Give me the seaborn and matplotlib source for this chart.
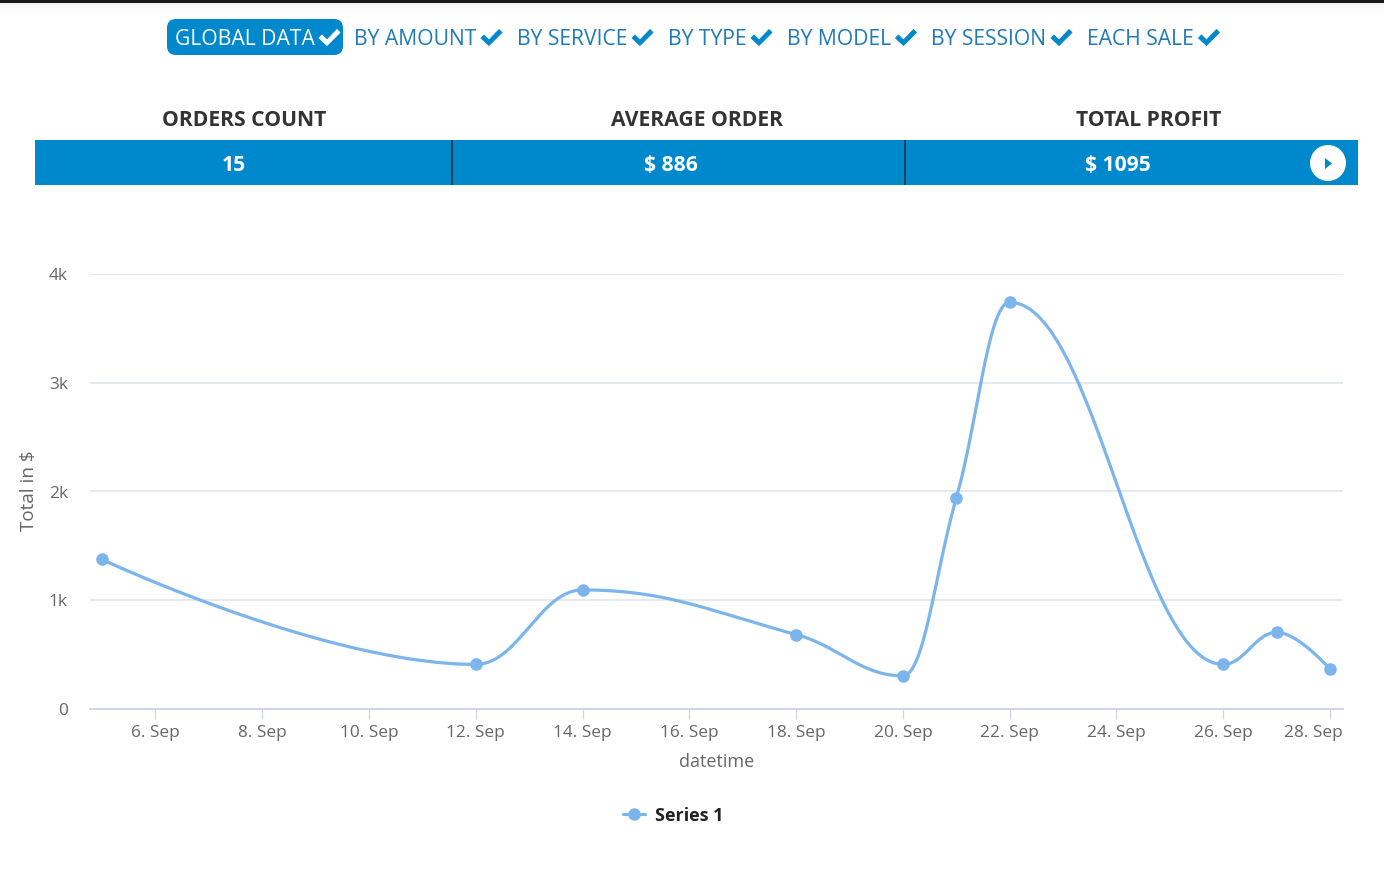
import matplotlib
matplotlib.use("Agg")
import matplotlib.pyplot as plt
import matplotlib.transforms as mtrans
from matplotlib.lines import Line2D
from matplotlib.patches import FancyBboxPatch, Rectangle, Circle, Polygon
import numpy as np
import pandas as pd
import seaborn as sns

# ---- data ----
days = [5, 12, 14, 18, 20, 21, 22, 26, 27, 28]
totals = [1375, 410, 1095, 685, 305, 1940, 3740, 410, 705, 365]
x_tick_days = [6, 8, 10, 12, 14, 16, 18, 20, 22, 24, 26, 28]
x_tick_labels = ["6. Sep", "8. Sep", "10. Sep", "12. Sep", "14. Sep", "16. Sep",
                 "18. Sep", "20. Sep", "22. Sep", "24. Sep", "26. Sep", "28. Sep"]
y_ticks = [0, 1000, 2000, 3000, 4000]
y_tick_labels = ["0", "1k", "2k", "3k", "4k"]
tabs = ["GLOBAL DATA", "BY AMOUNT", "BY SERVICE", "BY TYPE", "BY MODEL", "BY SESSION", "EACH SALE"]
headers = ["ORDERS COUNT", "AVERAGE ORDER", "TOTAL PROFIT"]
header_values = ["15", "$ 886", "$ 1095"]

BLUE = "#0088cc"
LINE = "#7cb5ec"
W, H = 1384, 880

sns.set_theme(style="white")
plt.rcParams["font.family"] = ["Open Sans", "DejaVu Sans"]

fig = plt.figure(figsize=(W / 100, H / 100), dpi=100, facecolor="white")

# page furniture, in pixel coordinates
bg = fig.add_axes([0, 0, 1, 1])
bg.set_xlim(0, W)
bg.set_ylim(H, 0)
bg.axis("off")

bg.add_patch(Rectangle((0, 0), W, 3, color="#1a1a1a", lw=0))
for i, a in enumerate([0.06, 0.04, 0.025, 0.015, 0.008]):
    bg.add_patch(Rectangle((0, 3 + i * 2), W, 2, color="black", alpha=a, lw=0))

bg.add_patch(FancyBboxPatch((167, 19), 176, 36, boxstyle="round,pad=0,rounding_size=9",
                            mutation_aspect=1, facecolor=BLUE, edgecolor="none", lw=0))
tab_x = [175, 354, 517, 668, 787, 931, 1087]
check_x = [329.5, 491.5, 642.5, 761.5, 906, 1061.5, 1209]
CHECK = np.array([(-10.5, 1), (-7.5, -2), (-2.5, 3), (7.5, -7.5), (10.5, -4.5), (-2.5, 8.5)])
for i, (t, xp, cx) in enumerate(zip(tabs, tab_x, check_x)):
    col = "white" if i == 0 else "#1f7ab5"
    bg.text(xp, 39.5, t, fontsize=15.2, color=col, ha="left", va="center")
    ccol = "white" if i == 0 else BLUE
    bg.add_patch(Polygon(CHECK + (cx, 37), closed=True, facecolor=ccol, edgecolor=ccol, lw=0.6, joinstyle="round"))

for t, xp in zip(headers, [244, 697, 1149]):
    bg.text(xp, 120.5, t, fontsize=15.2, fontweight="bold", color="#333333",
            ha="center", va="center")

bg.add_patch(Rectangle((35, 140), 1323, 45, color=BLUE, lw=0))
for xp in [452, 905]:
    bg.add_patch(Rectangle((xp - 1, 140), 2, 45, color="#1f3f55", lw=0))
for t, xp in zip(header_values, [233.5, 670.5, 1117.5]):
    bg.text(xp, 165.5, t, fontsize=15.2, fontweight="bold", color="white",
            ha="center", va="center")
bg.add_patch(Circle((1328, 163), 18, color="white", lw=0))
bg.add_patch(Polygon([(1325, 158), (1325, 169), (1332, 163.5)], closed=True, color=BLUE, lw=0))

# chart
L, R, T, B = 90, 1343, 274, 709
ax = fig.add_axes([L / W, 1 - B / H, (R - L) / W, (B - T) / H])
ax.patch.set_alpha(0)

start = pd.Timestamp("2018-09-01")
dates = [start + pd.Timedelta(days=d - 1) for d in days]


def spline(xs, ys, smoothing=1.5):
    """Draw the connecting curve between the read points, as the original's spline does."""
    n = len(xs)
    lc, rc = [None] * n, [None] * n
    den = smoothing + 1
    for i in range(n):
        if 0 < i < n - 1:
            lx = (smoothing * xs[i] + xs[i - 1]) / den
            ly = (smoothing * ys[i] + ys[i - 1]) / den
            rx = (smoothing * xs[i] + xs[i + 1]) / den
            ry = (smoothing * ys[i] + ys[i + 1]) / den
            c = (ry - ly) * (rx - xs[i]) / (rx - lx) + ys[i] - ry
            ly += c
            ry += c
            if ly > ys[i - 1] and ly > ys[i]:
                ly = max(ys[i - 1], ys[i]); ry = 2 * ys[i] - ly
            elif ly < ys[i - 1] and ly < ys[i]:
                ly = min(ys[i - 1], ys[i]); ry = 2 * ys[i] - ly
            if ry > ys[i + 1] and ry > ys[i]:
                ry = max(ys[i + 1], ys[i]); ly = 2 * ys[i] - ry
            elif ry < ys[i + 1] and ry < ys[i]:
                ry = min(ys[i + 1], ys[i]); ly = 2 * ys[i] - ry
            lc[i], rc[i] = (lx, ly), (rx, ry)
        else:
            lc[i] = rc[i] = (xs[i], ys[i])
    t = np.linspace(0, 1, 60)
    ox, oy = [], []
    for i in range(1, n):
        p0, p1, p2, p3 = (xs[i - 1], ys[i - 1]), rc[i - 1], lc[i], (xs[i], ys[i])
        ox += list((1 - t) ** 3 * p0[0] + 3 * (1 - t) ** 2 * t * p1[0] + 3 * (1 - t) * t ** 2 * p2[0] + t ** 3 * p3[0])
        oy += list((1 - t) ** 3 * p0[1] + 3 * (1 - t) ** 2 * t * p1[1] + 3 * (1 - t) * t ** 2 * p2[1] + t ** 3 * p3[1])
    return np.array(ox), np.array(oy)


cx_, cy_ = spline([float(d) for d in days], [float(v) for v in totals])
curve = pd.DataFrame({"date": start + pd.to_timedelta(cx_ - 1, unit="D"), "total": cy_})
points = pd.DataFrame({"date": dates, "total": totals})

sns.lineplot(data=curve, x="date", y="total", ax=ax, color=LINE, linewidth=2.3,
             estimator=None, sort=False, clip_on=False, zorder=3)
sns.scatterplot(data=points, x="date", y="total", ax=ax, color=LINE, s=82,
                linewidth=0, clip_on=False, zorder=4)

ax.set_xlim(start + pd.Timedelta(days=3.775), start + pd.Timedelta(days=27.243))
ax.set_ylim(0, 4000)

ax.set_yticks(y_ticks, y_tick_labels)
ax.set_xticks([start + pd.Timedelta(days=d - 1) for d in x_tick_days], x_tick_labels)
ax.grid(axis="y", color="#e6e9ee", linewidth=1.4)
ax.grid(axis="x", visible=False)
ax.set_axisbelow(True)
for s in ["top", "left", "right"]:
    ax.spines[s].set_visible(False)
ax.spines["bottom"].set_color("#ccd6eb")
ax.spines["bottom"].set_linewidth(1.4)

ax.tick_params(axis="x", bottom=True, length=7.2, width=0.9, color="#ccd6eb",
               labelsize=12.4, labelcolor="#666666", pad=4.5)
ax.tick_params(axis="y", left=False, labelsize=12.4, labelcolor="#666666", pad=10)
last = ax.get_xticklabels()[-1]
last.set_ha("right")
last.set_transform(last.get_transform() + mtrans.ScaledTranslation(13 / 100, 0, fig.dpi_scale_trans))

ax.set_xlabel("")
ax.set_ylabel("")
bg.text(717, 762, "datetime", fontsize=13, color="#666666", ha="center", va="center")
bg.text(29, 491, "Total in $", fontsize=13.6, color="#666666", rotation=90, ha="center", va="center")

handle = Line2D([], [], color=LINE, linewidth=2.3, marker="o", markersize=9, markeredgewidth=0)
fig.legend([handle], ["Series 1"], loc="center", bbox_to_anchor=(673 / W, 1 - 815.5 / H), frameon=False,
           handlelength=1.25, handletextpad=0.55, prop={"size": 13, "weight": "bold"},
           labelcolor="#222222")

fig.savefig("out.png", dpi=100, facecolor="white")
